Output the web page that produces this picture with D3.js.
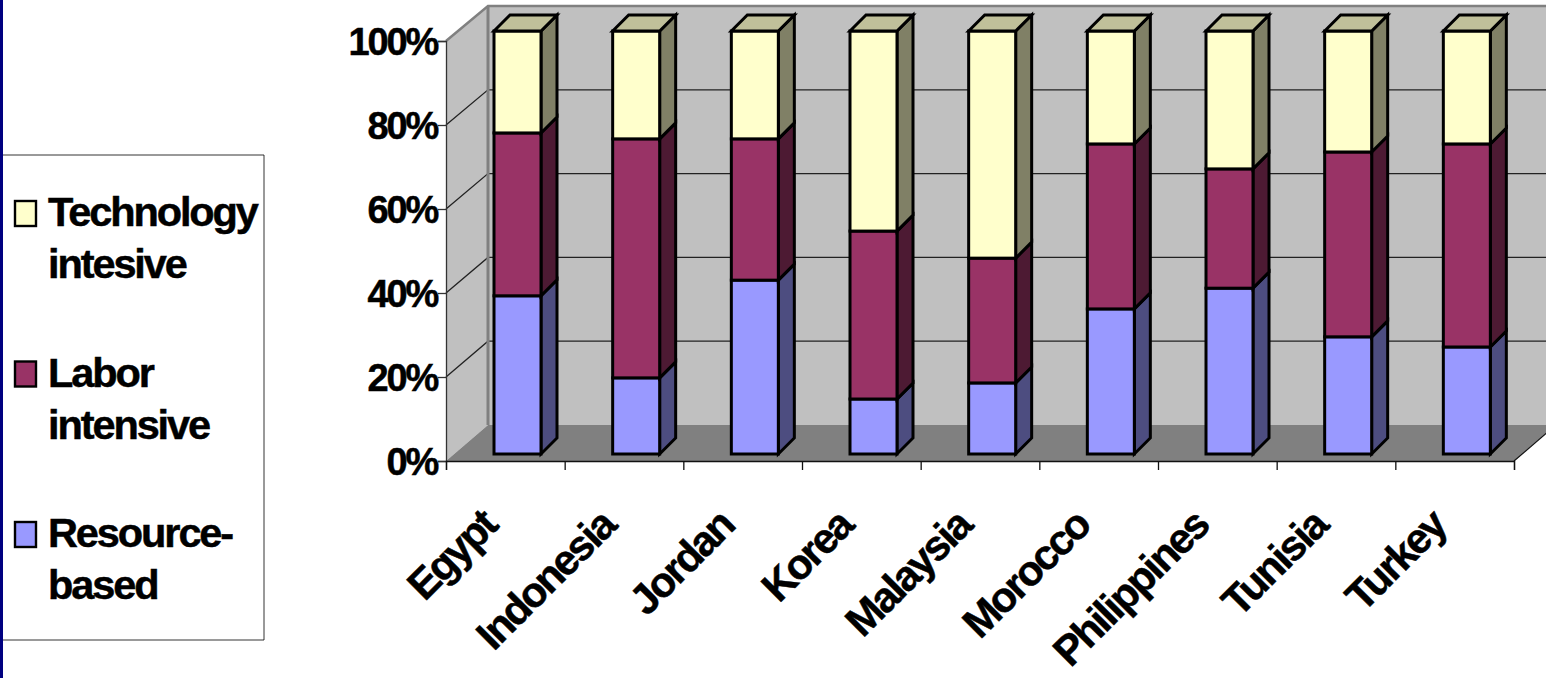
<!DOCTYPE html>
<html>
<head>
<meta charset="utf-8">
<script src="https://cdn.jsdelivr.net/npm/d3@7"></script>
<style>
    body { margin: 0; background: #fff; overflow: hidden; }
    svg { display: block; }
    text { font-family: "Liberation Sans", Arial, sans-serif; font-weight: bold; fill: #000; stroke: #000; stroke-width: 0.5px; }
</style>
</head>
<body>
<svg id="chart" width="1546" height="678"></svg>
<script>
// values, share of exports in %
const countries = ["Egypt", "Indonesia", "Jordan", "Korea", "Malaysia", "Morocco", "Philippines", "Tunisia", "Turkey"];
const resourceBased = [37.4, 18.0, 41.1, 13.0, 16.8, 34.3, 39.2, 27.7, 25.3];
const laborIntensive = [38.5, 56.5, 33.4, 39.7, 29.5, 39.0, 28.2, 43.7, 48.0];
const technologyIntensive = [24.1, 25.5, 25.5, 47.3, 53.7, 26.7, 32.6, 28.6, 26.7];
const yTicks = [0, 20, 40, 60, 80, 100];
const legendLabels = [["Technology", "intesive"], ["Labor", "intensive"], ["Resource-", "based"]];

const colors = { resource: "#9999ff", labor: "#993366", tech: "#ffffcc" };
const sideColors = { resource: "#4d4d80", labor: "#4d1a33", tech: "#808066" };
const topColor = "#c0c09a";
const seriesKeys = ["resource", "labor", "tech"];

const svg = d3.select("#chart");

// 3d box of the chart: front plane, back wall, bar depth
const frontX = 446, frontRight = 1514, depthX = 42;
const yFront = d3.scaleLinear().domain([0, 100]).range([461, 41]);
const yBack = d3.scaleLinear().domain([0, 100]).range([425, 6]);
const yBar = d3.scaleLinear().domain([0, 100]).range([454, 31]);
const xBand = d3.scaleBand().domain(countries).range([frontX, frontRight]);
const xTicks = d3.scaleLinear().domain([0, countries.length]).range([frontX, frontRight]);
const barOffset = 48, barWidth = 47, barDepth = 16;

const poly = pts => pts.map(p => p.join(",")).join(" ");

// left edge strip
svg.append("rect").attr("x", 0).attr("y", 0).attr("width", 3).attr("height", 678).attr("fill", "#000080");

// side wall
svg.append("polygon")
    .attr("points", poly([[frontX, yFront(0)], [frontX, yFront(100)], [frontX + depthX, yBack(100)], [frontX + depthX, yBack(0)]]))
    .attr("fill", "#c0c0c0");
// back wall
svg.append("rect")
    .attr("x", frontX + depthX).attr("y", yBack(100))
    .attr("width", 1100).attr("height", yBack(0) - yBack(100))
    .attr("fill", "#c0c0c0");
// floor
svg.append("polygon")
    .attr("points", poly([[frontX, yFront(0)], [frontRight, yFront(0)], [frontRight + depthX, yBack(0)], [frontX + depthX, yBack(0)]]))
    .attr("fill", "#808080");

// gridlines on side and back walls
yTicks.filter(d => d > 0 && d < 100).forEach(d => {
    svg.append("polyline")
        .attr("points", poly([[frontX, yFront(d)], [frontX + depthX, yBack(d)], [1546, yBack(d)]]))
        .attr("fill", "none").attr("stroke", "#222").attr("stroke-width", 1.3);
});

// wall edges
svg.append("polyline")
    .attr("points", poly([[frontX, yFront(100)], [frontX + depthX, yBack(100)], [1546, yBack(100)]]))
    .attr("fill", "none").attr("stroke", "#808080").attr("stroke-width", 2.5);
svg.append("line")
    .attr("x1", frontX + depthX).attr("x2", frontX + depthX)
    .attr("y1", yBack(100)).attr("y2", yBack(0))
    .attr("stroke", "#808080").attr("stroke-width", 3);
svg.append("line")
    .attr("x1", frontRight).attr("x2", frontRight + depthX)
    .attr("y1", yFront(0)).attr("y2", yBack(0))
    .attr("stroke", "#111").attr("stroke-width", 1.2);

// axes
const yAxis = d3.axisLeft(yFront).tickValues(yTicks).tickSize(8).tickPadding(1).tickFormat(d => d + "%");
const gy = svg.append("g").attr("transform", `translate(${frontX},0)`).call(yAxis);
gy.selectAll("path, line").attr("stroke", "#333").attr("stroke-width", 1.3);
gy.selectAll("text").style("font-size", "38px").style("letter-spacing", "-2.2px").attr("fill", "#000").attr("dy", "0.36em");

const xAxis = d3.axisBottom(xTicks).ticks(countries.length).tickSize(9).tickFormat("");
const gx = svg.append("g").attr("transform", `translate(0,${yFront(0)})`).call(xAxis);
gx.selectAll("path, line").attr("stroke", "#111").attr("stroke-width", 1.3);

// stacked bars
const rows = countries.map((c, i) => ({ country: c, resource: resourceBased[i], labor: laborIntensive[i], tech: technologyIntensive[i] }));
const stacked = d3.stack().keys(seriesKeys)(rows);

countries.forEach((c, i) => {
    const g = svg.append("g").attr("class", "bar").attr("stroke", "#000").attr("stroke-width", 3).attr("stroke-linejoin", "miter");
    const x0 = xBand(c) + barOffset, x1 = x0 + barWidth;
    stacked.forEach(layer => {
        const top = yBar(layer[i][1]), bottom = yBar(layer[i][0]);
        g.append("polygon")
            .attr("points", poly([[x1, bottom], [x1, top], [x1 + barDepth, top - barDepth], [x1 + barDepth, bottom - barDepth]]))
            .attr("fill", sideColors[layer.key]);
        g.append("rect")
            .attr("x", x0).attr("y", top).attr("width", barWidth).attr("height", bottom - top)
            .attr("fill", colors[layer.key]);
    });
    const t = yBar(100);
    g.append("polygon")
        .attr("points", poly([[x0, t], [x0 + barDepth, t - barDepth], [x1 + barDepth, t - barDepth], [x1, t]]))
        .attr("fill", topColor);
});

// category labels
svg.selectAll("text.cat")
    .data(countries)
    .enter()
    .append("text")
    .attr("class", "cat")
    .attr("text-anchor", "end")
    .attr("transform", d => `translate(${xBand(d) + 53},${528}) rotate(-45)`)
    .style("font-size", "42px")
    .style("letter-spacing", "-2.3px")
    .text(d => d);

// legend
const legendY = d3.scalePoint().domain(legendLabels.map(d => d[0])).range([226, 547]);
const legendKeys = ["tech", "labor", "resource"];
svg.append("polyline")
    .attr("points", poly([[3, 155], [264, 155], [264, 640], [3, 640]]))
    .attr("fill", "#fff").attr("stroke", "#000").attr("stroke-width", 0.8);

legendLabels.forEach((lines, i) => {
    const base = legendY(lines[0]);
    svg.append("rect")
        .attr("x", 15).attr("y", base - 25).attr("width", 21).attr("height", 25)
        .attr("fill", colors[legendKeys[i]]).attr("stroke", "#000").attr("stroke-width", 2.4);
    lines.forEach((line, j) => {
        svg.append("text")
            .attr("x", 48).attr("y", base + j * 52)
            .style("font-size", "41.5px")
            .style("letter-spacing", "-2.1px")
            .text(line);
    });
});
</script>
</body>
</html>
